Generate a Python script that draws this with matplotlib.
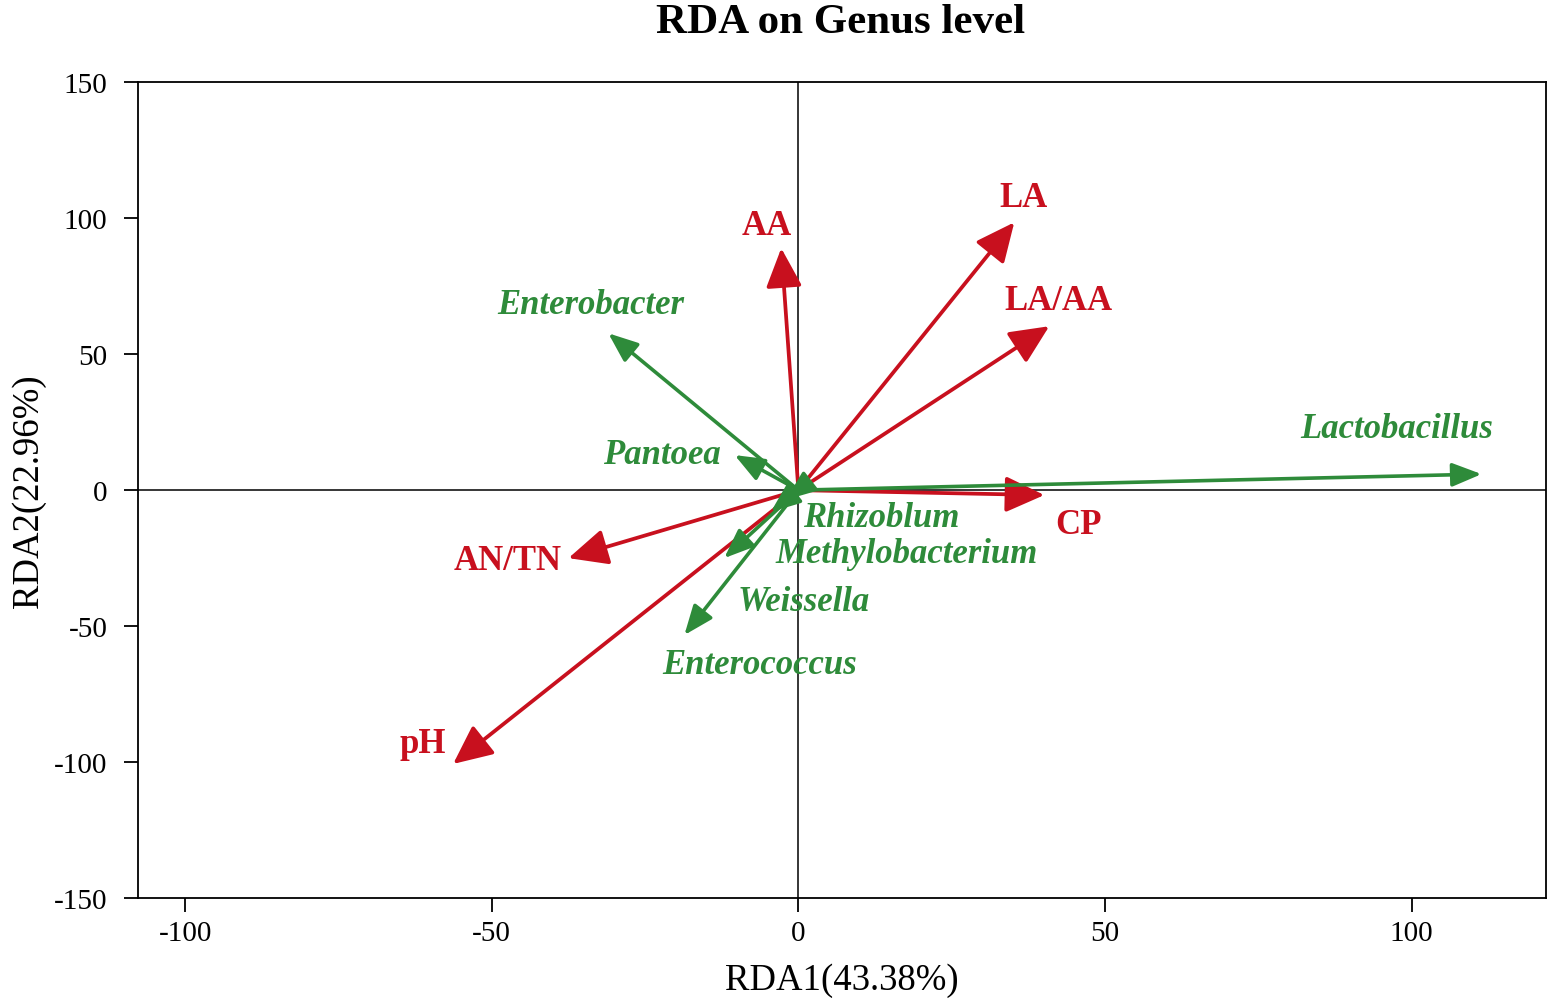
import matplotlib.pyplot as plt

plt.rcParams['font.family'] = ['Liberation Serif', 'DejaVu Serif']
plt.rcParams['axes.unicode_minus'] = False

# --- dados ---
env_names = ['AA', 'LA', 'LA/AA', 'CP', 'AN/TN', 'pH']
env_x = [-2.8, 35.2, 40.9, 40.1, -37.5, -56.3]
env_y = [89.0, 98.5, 60.3, -1.8, -25.0, -100.7]
env_lx = [-5.2, 36.7, 42.4, 45.6, -47.4, -61.2]
env_ly = [97.4, 107.7, 69.9, -12.5, -25.7, -93.0]

gen_names = ['Enterobacter', 'Pantoea', 'Lactobacillus', 'Rhizoblum',
             'Methylobacterium', 'Weissella', 'Enterococcus']
gen_x = [-31.0, -10.4, 111.4, -2.0, -12.1, -4.5, -18.6]
gen_y = [57.7, 12.9, 5.9, -3.5, -25.0, -8.0, -53.3]
gen_lx = [-33.8, -22.3, 97.6, 13.5, 17.6, 0.8, -6.4]
gen_ly = [68.4, 13.2, 22.8, -9.9, -23.2, -40.8, -64.0]

RED = '#C8101E'
GREEN = '#2E8B3A'

fig = plt.figure(figsize=(15.5, 10.04), dpi=100)
ax = fig.add_axes([0.089, 0.1046, 0.9084, 0.8124])

ax.axhline(0, color='black', lw=1.1, zorder=1)
ax.axvline(0, color='black', lw=1.1, zorder=1)

# setas dos gêneros (verde)
for x, y in zip(gen_x, gen_y):
    ax.annotate('', xy=(x, y), xytext=(0, 0),
                arrowprops=dict(arrowstyle='-|>,head_length=0.9,head_width=0.36',
                                mutation_scale=20, color=GREEN, lw=2.6,
                                shrinkA=0, shrinkB=0), zorder=3)

# setas das variáveis ambientais (vermelho)
for x, y in zip(env_x, env_y):
    ax.annotate('', xy=(x, y), xytext=(0, 0),
                arrowprops=dict(arrowstyle='-|>,head_length=0.8,head_width=0.37',
                                mutation_scale=30, color=RED, lw=2.7,
                                shrinkA=0, shrinkB=0), zorder=2)

for n, x, y in zip(env_names, env_lx, env_ly):
    ax.text(x, y, n, color=RED, fontsize=25, fontweight='bold',
            ha='center', va='center')

for n, x, y in zip(gen_names, gen_lx, gen_ly):
    ax.text(x, y, n, color=GREEN, fontsize=25, fontweight='bold',
            fontstyle='italic', ha='center', va='center')

ax.set_xlim(-107.7, 121.9)
ax.set_ylim(-150, 150)
ax.set_xticks([-100, -50, 0, 50, 100])
ax.set_yticks([-150, -100, -50, 0, 50, 100, 150])
ax.tick_params(direction='out', length=10, width=1.3, labelsize=21)
ax.tick_params(axis='x', pad=6)
ax.tick_params(axis='y', pad=12)
for s in ax.spines.values():
    s.set_linewidth(1.3)

ax.set_xlabel('RDA1(43.38%)', fontsize=26.5, labelpad=12)
ax.set_ylabel('RDA2(22.96%)', fontsize=26.5, labelpad=6)
fig.text(0.542, 1 - 33 / 1004, 'RDA on Genus level', fontsize=31,
         fontweight='bold', ha='center', va='baseline')

fig.savefig('out.png', dpi=100)
